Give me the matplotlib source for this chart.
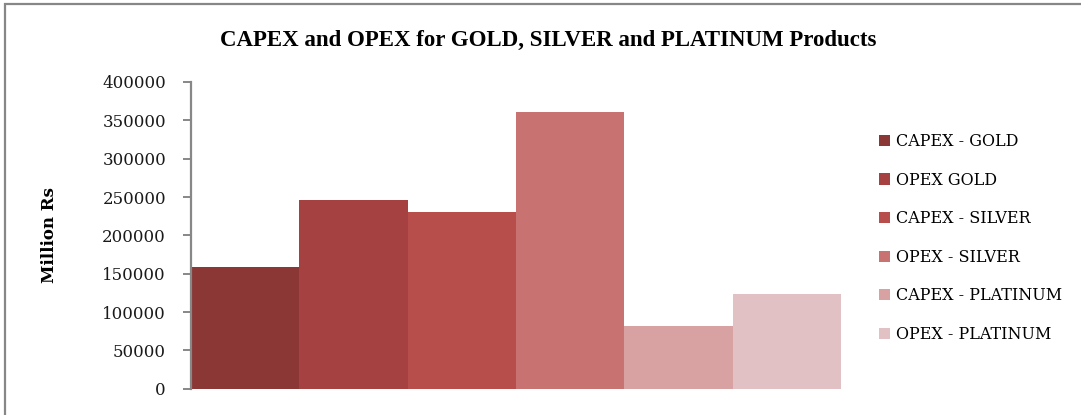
"""Bar chart of CAPEX and OPEX for gold, silver and platinum products."""

import matplotlib
matplotlib.use("Agg")
import matplotlib.pyplot as plt
from matplotlib.patches import Rectangle

series_labels = [
    "CAPEX - GOLD",
    "OPEX GOLD",
    "CAPEX - SILVER",
    "OPEX - SILVER",
    "CAPEX - PLATINUM",
    "OPEX - PLATINUM",
]
values = [158500, 246000, 230500, 361000, 82000, 123500]
colors = ["#8a3736", "#a54241", "#b84e4b", "#c87271", "#d8a2a2", "#e1c1c3"]
y_ticks = [0, 50000, 100000, 150000, 200000, 250000, 300000, 350000, 400000]

GRAY = "#878787"
SERIF = ["DejaVu Serif"]


def main() -> None:
    fig = plt.figure(figsize=(10.81, 4.15), dpi=100)
    ax = fig.add_axes([191 / 1081, 1 - 388.7 / 415, 650 / 1081, 306.7 / 415])

    # one category, six series drawn side by side without gaps
    for i, (label, value, color) in enumerate(zip(series_labels, values, colors)):
        ax.bar(i, value, width=1.0, align="edge", color=color,
               linewidth=0, label=label)

    ax.set_xlim(0, len(values))
    ax.set_ylim(0, 400000)
    ax.set_yticks(y_ticks)
    ax.set_yticklabels([str(v) for v in y_ticks], family=SERIF, fontsize=12,
                       color="#1a1a1a")
    ax.set_xticks([])
    for side in ("top", "right", "bottom"):
        ax.spines[side].set_visible(False)
    ax.spines["left"].set_color(GRAY)
    ax.spines["left"].set_linewidth(1.6)
    ax.tick_params(axis="y", direction="out", length=6, width=1.4,
                   color=GRAY, pad=12)

    ax.set_ylabel("Million Rs", family=SERIF, fontsize=12, fontweight="bold",
                  va="center")
    ax.yaxis.set_label_coords(49 / 1081, 1 - 235 / 415,
                              transform=fig.transFigure)

    fig.text(548 / 1081, 1 - 40 / 415,
             "CAPEX and OPEX for GOLD, SILVER and PLATINUM Products",
             family=["Liberation Serif"], fontsize=16.5, fontweight="bold",
             ha="center", va="center")

    ax.legend(loc="upper left", bbox_to_anchor=(879 / 1081, 1 - 133 / 415),
              bbox_transform=fig.transFigure, frameon=False,
              prop={"family": SERIF, "size": 11.5},
              handlelength=0.7, handleheight=0.7, handletextpad=0.35,
              labelspacing=1.35, borderaxespad=0, borderpad=0)

    # chart frame, cut off on the right and bottom
    fig.patches.append(Rectangle((5 / 1081, -0.1), 1.2, 1.1 - 4.5 / 415,
                                 transform=fig.transFigure, fill=False,
                                 edgecolor=GRAY, linewidth=1.6))

    fig.savefig("out.png", dpi=100)


if __name__ == "__main__":
    main()
